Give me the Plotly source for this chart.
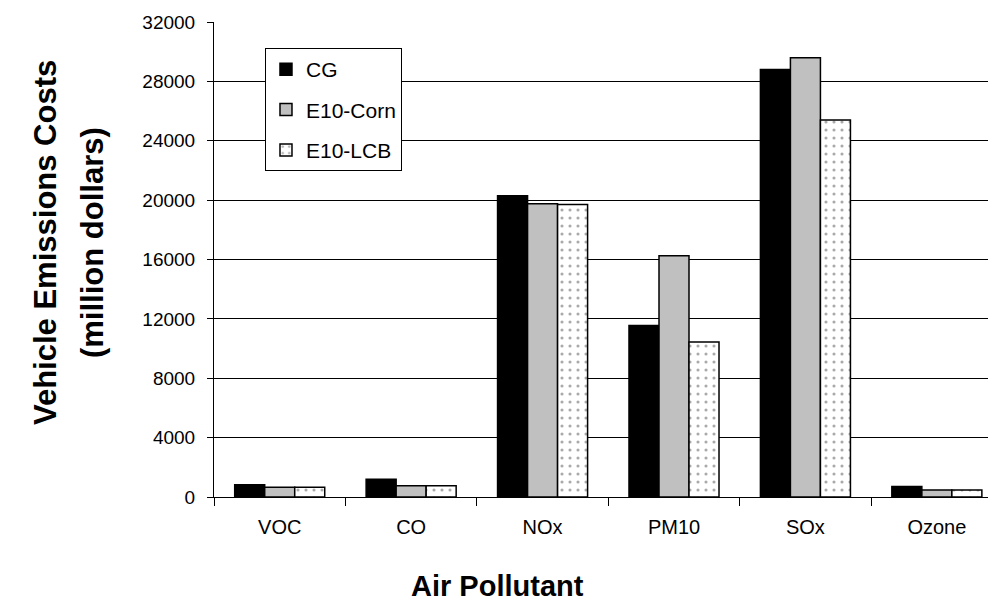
import plotly.graph_objects as go

categories = ["VOC", "CO", "NOx", "PM10", "SOx", "Ozone"]
cg = [820, 1200, 20300, 11550, 28800, 700]
e10_corn = [660, 750, 19750, 16250, 29600, 480]
e10_lcb = [660, 750, 19700, 10450, 25400, 480]
y_ticks = [0, 4000, 8000, 12000, 16000, 20000, 24000, 28000, 32000]
y_tick_labels = ["0", "4000", "8000", "12000", "16000", "20000", "24000", "28000", "32000"]

FONT = "Liberation Sans, Arial, sans-serif"

fig = go.Figure()
fig.add_trace(go.Bar(name="CG", x=categories, y=cg, legendgroup="a",
                     marker=dict(color="black", line=dict(color="black", width=1.5))))
fig.add_trace(go.Bar(name="E10-Corn", x=categories, y=e10_corn, legendgroup="b",
                     marker=dict(color="#c0c0c0", line=dict(color="black", width=1.5))))
fig.add_trace(go.Bar(name="E10-LCB", x=categories, y=e10_lcb, legendgroup="c",
                     marker=dict(color="white", line=dict(color="black", width=1.5),
                                 pattern=dict(shape=".", fgcolor="#555555", bgcolor="white",
                                              size=8, solidity=0.12))))

fig.update_layout(
    width=988, height=595,
    margin=dict(l=206, r=0, t=14, b=106),
    paper_bgcolor="white", plot_bgcolor="white",
    barmode="group", bargap=0.315, bargroupgap=0,
    font=dict(family=FONT, size=20, color="black"),
    showlegend=True,
    legend=dict(x=0.0652, y=0.945, xanchor="left", yanchor="top",
                bordercolor="black", borderwidth=1, bgcolor="white",
                font=dict(size=21), traceorder="grouped", tracegroupgap=10),
    xaxis=dict(range=[-0.5, 5.45], showline=True, linecolor="black", linewidth=1,
               ticks="outside", tickson="boundaries", ticklen=8, tickcolor="black",
               showgrid=False, tickfont=dict(size=20), automargin=False,
               ticklabelstandoff=12),
    yaxis=dict(range=[0, 32000], tickvals=y_ticks, ticktext=y_tick_labels,
               showline=True, linecolor="black",
               linewidth=1, ticks="outside", ticklen=6, tickcolor="black",
               showgrid=True, gridcolor="black", gridwidth=1, zeroline=False,
               tickfont=dict(size=19), automargin=False, ticklabelstandoff=8),
    annotations=[
        dict(text="<b>Vehicle Emissions Costs</b>", textangle=-90,
             xref="paper", yref="paper", x=-0.2161, y=0.5347, showarrow=False,
             font=dict(size=31), xanchor="center", yanchor="middle"),
        dict(text="<b>(million dollars)</b>", textangle=-90,
             xref="paper", yref="paper", x=-0.156, y=0.5347, showarrow=False,
             font=dict(size=31), xanchor="center", yanchor="middle"),
        dict(text="<b>Air Pollutant</b>", xref="paper", yref="paper",
             x=0.362, y=-0.187, showarrow=False, font=dict(size=29),
             xanchor="center", yanchor="middle"),
    ],
)

fig.write_html("out.html")
